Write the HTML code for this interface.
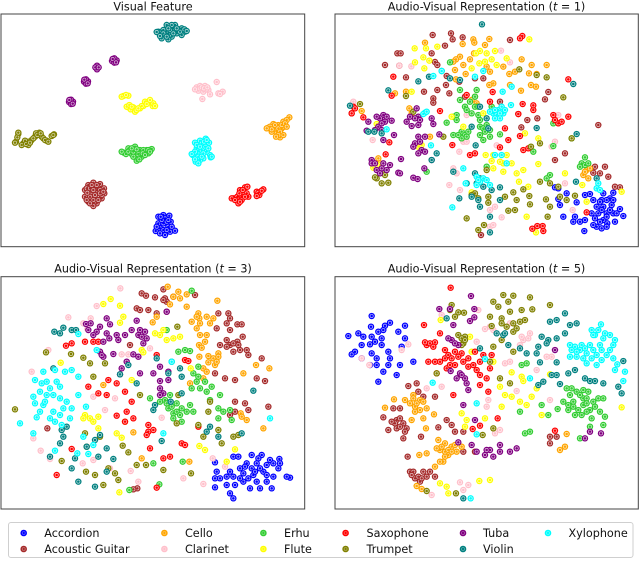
<!DOCTYPE html>
<html lang="en">
<head>
<meta charset="utf-8">
<title>t-SNE feature panels</title>
<style>
html,body{margin:0;padding:0;background:#fff;width:640px;height:561px;overflow:hidden}
svg{display:block;filter:blur(0.3px)}
text{font-family:"DejaVu Sans","Liberation Sans",sans-serif;fill:#111}
.ttl{font-size:11.2px;text-anchor:middle}
.lg{font-size:11.2px}
</style>
</head>
<body>
<svg id="chart" width="640" height="561" viewBox="0 0 640 561" xmlns="http://www.w3.org/2000/svg">
  <text class="ttl" x="153" y="10.5">Visual Feature</text>
  <text class="ttl" x="486.5" y="10.5">Audio-Visual Representation (<tspan font-style="italic">t</tspan> = 1)</text>
  <text class="ttl" x="153" y="272.5">Audio-Visual Representation (<tspan font-style="italic">t</tspan> = 3)</text>
  <text class="ttl" x="486.5" y="272.5">Audio-Visual Representation (<tspan font-style="italic">t</tspan> = 5)</text>
  <g id="plots"></g>
  <g id="legend">
    <rect x="8.5" y="522.5" width="624.5" height="35" rx="2.5" fill="#fff" stroke="#cfcfcf" stroke-width="1"/>
    <g><circle cx="23.7" cy="533" r="3.3" fill="#0000ff"/><circle cx="23.7" cy="533" r="1.5" fill="none" stroke="#fff" stroke-opacity=".45" stroke-width=".6"/><text class="lg" x="44.3" y="537.2">Accordion</text></g>
    <g><circle cx="23.7" cy="549" r="3.3" fill="#a52a2a"/><circle cx="23.7" cy="549" r="1.5" fill="none" stroke="#fff" stroke-opacity=".45" stroke-width=".6"/><text class="lg" x="44.3" y="553.2">Acoustic Guitar</text></g>
    <g><circle cx="164.4" cy="533" r="3.3" fill="#ffa500"/><circle cx="164.4" cy="533" r="1.5" fill="none" stroke="#fff" stroke-opacity=".45" stroke-width=".6"/><text class="lg" x="185" y="537.2">Cello</text></g>
    <g><circle cx="164.4" cy="549" r="3.3" fill="#ffc0cb"/><circle cx="164.4" cy="549" r="1.5" fill="none" stroke="#fff" stroke-opacity=".45" stroke-width=".6"/><text class="lg" x="185" y="553.2">Clarinet</text></g>
    <g><circle cx="263.4" cy="533" r="3.3" fill="#32cd32"/><circle cx="263.4" cy="533" r="1.5" fill="none" stroke="#fff" stroke-opacity=".45" stroke-width=".6"/><text class="lg" x="284" y="537.2">Erhu</text></g>
    <g><circle cx="263.4" cy="549" r="3.3" fill="#ffff00"/><circle cx="263.4" cy="549" r="1.5" fill="none" stroke="#fff" stroke-opacity=".45" stroke-width=".6"/><text class="lg" x="284" y="553.2">Flute</text></g>
    <g><circle cx="345.6" cy="533" r="3.3" fill="#ff0000"/><circle cx="345.6" cy="533" r="1.5" fill="none" stroke="#fff" stroke-opacity=".45" stroke-width=".6"/><text class="lg" x="366.5" y="537.2">Saxophone</text></g>
    <g><circle cx="345.6" cy="549" r="3.3" fill="#808000"/><circle cx="345.6" cy="549" r="1.5" fill="none" stroke="#fff" stroke-opacity=".45" stroke-width=".6"/><text class="lg" x="366.5" y="553.2">Trumpet</text></g>
    <g><circle cx="463" cy="533" r="3.3" fill="#800080"/><circle cx="463" cy="533" r="1.5" fill="none" stroke="#fff" stroke-opacity=".45" stroke-width=".6"/><text class="lg" x="483" y="537.2">Tuba</text></g>
    <g><circle cx="463" cy="549" r="3.3" fill="#008080"/><circle cx="463" cy="549" r="1.5" fill="none" stroke="#fff" stroke-opacity=".45" stroke-width=".6"/><text class="lg" x="483" y="553.2">Violin</text></g>
    <g><circle cx="548" cy="533" r="3.3" fill="#00ffff"/><circle cx="548" cy="533" r="1.5" fill="none" stroke="#fff" stroke-opacity=".45" stroke-width=".6"/><text class="lg" x="568.5" y="537.2">Xylophone</text></g>
  </g>
</svg>
<script>
// Class names in matplotlib draw order
const categories = ["accordion","acoustic-guitar","cello","clarinet","erhu","flute","saxophone","trumpet","tuba","violin","xylophone"];

// ---- Panel: Visual Feature (t-SNE units) ----
const vfAccordion = [[475,650],[490,645],[508,647],[512,665],[475,670],[490,670],[505,680],[525,692],[467,693],[480,685],[495,705],[510,695],[495,655],[485,660],[500,665],[470,680],[515,680],[490,690],[480,700],[500,690],[505,660],[482,650]];
const vfGuitar = [[255,570],[265,555],[280,548],[300,552],[312,565],[313,580],[305,595],[290,610],[280,618],[265,605],[255,590],[275,575],[290,580],[270,590],[295,565],[285,595],[260,565],[270,565],[285,560],[300,570],[305,585],[295,600],[280,600],[270,610],[260,600],[262,578],[280,570],[300,580],[285,585],[275,555],[290,555],[310,575]];
const vfCello = [[805,383],[820,372],[835,375],[850,365],[868,352],[860,360],[845,385],[830,395],[815,395],[840,412],[850,405],[852,380],[825,385],[810,380],[815,388],[825,375],[835,385],[840,395],[835,405],[845,375],[855,370],[860,380],[828,410],[800,385]];
const vfClarinet = [[590,262],[600,258],[615,258],[625,270],[610,275],[595,272],[630,283],[650,246],[655,280],[668,275],[607,297],[618,268],[600,265],[605,262],[612,265],[585,268],[622,262],[660,282]];
const vfErhu = [[372,458],[385,445],[405,440],[420,450],[435,455],[455,447],[445,460],[425,470],[410,482],[395,462],[378,462],[400,455],[415,462],[440,450],[385,455],[395,445],[410,448],[430,450],[445,450],[428,460],[410,470],[400,470],[418,478],[450,455],[365,455],[435,465]];
const vfFlute = [[370,288],[385,287],[385,322],[392,328],[405,335],[420,325],[435,305],[445,305],[458,318],[460,310],[430,318],[400,322],[380,320],[365,290],[378,285],[388,315],[395,320],[410,330],[425,318],[440,312],[450,300],[465,318],[415,325]];
const vfSaxophone = [[700,595],[715,610],[712,590],[720,570],[735,562],[725,590],[745,590],[740,580],[770,575],[778,585],[790,568],[725,600],[695,595],[705,600],[718,580],[728,570],[742,560],[735,590],[720,605],[775,578],[785,572],[770,588]];
const vfTrumpet = [[55,402],[48,425],[52,412],[70,430],[85,435],[95,420],[85,425],[105,410],[118,398],[125,410],[140,422],[130,415],[108,400],[155,408],[162,403],[75,422],[45,428],[55,398],[65,435],[78,432],[100,415],[112,405],[122,400],[135,420],[145,425],[160,405],[90,428]];
const vfTuba = [[343,181],[336,183],[350,181],[343,175],[343,188],[338,177],[348,187],[291,202],[291,197],[291,208],[286,202],[296,202],[258,244],[252,245],[264,244],[258,238],[258,251],[253,239],[263,250],[213,305],[207,306],[219,305],[213,299],[213,312],[208,300],[218,311]];
const vfViolin = [[475,95],[490,90],[500,75],[505,100],[520,85],[530,100],[545,85],[555,95],[545,105],[515,110],[485,115],[505,118],[495,105],[535,90],[525,75],[480,98],[470,96],[490,100],[510,90],[520,100],[540,95],[553,88],[560,93],[500,110],[480,108],[530,85],[515,75],[505,85]];
const vfXylophone = [[585,428],[600,422],[617,416],[627,428],[615,440],[590,445],[605,450],[578,465],[590,460],[630,465],[620,455],[632,472],[610,475],[587,485],[600,480],[590,435],[605,430],[612,425],[620,420],[600,440],[585,455],[595,470],[610,460],[625,445],[575,462],[635,470],[585,478],[595,490],[605,470]];

// ---- Panel: t = 1 ----
const t1Accordion = [[850,580],[880,578],[870,595],[845,600],[830,620],[850,620],[875,615],[900,627],[910,648],[880,640],[860,640],[835,640],[850,660],[885,665],[830,680],[845,685],[860,650],[815,640],[795,585],[810,582],[793,693],[770,607],[740,580],[715,597],[720,615],[730,650],[760,665],[765,650],[780,665],[795,660],[715,565],[705,562],[862,670],[840,605],[820,600],[860,600],[845,630],[870,630],[890,640],[825,655],[840,665],[820,675],[860,680],[880,600]];
const t1Guitar = [[338,105],[393,100],[398,118],[428,112],[375,137],[335,160],[232,160],[242,160],[195,195],[238,197],[258,232],[345,186],[352,195],[380,228],[352,270],[312,275],[388,280],[378,255],[340,295],[340,308],[435,290],[418,245],[465,235],[490,235],[595,342],[622,360],[652,355],[675,298],[685,276],[604,382],[835,375],[705,480],[735,460],[540,305],[95,340],[825,500],[855,500],[820,518],[865,530],[885,560],[900,562],[483,705],[840,520],[570,120]];
const t1Cello = [[315,128],[428,132],[460,118],[508,117],[463,128],[495,135],[420,170],[408,178],[400,185],[430,195],[462,160],[405,210],[437,222],[408,238],[680,195],[635,195],[627,220],[650,222],[568,222],[585,215],[605,178],[520,250],[508,255],[603,272],[633,255],[648,260],[570,255],[258,275],[268,325],[275,340],[330,410],[125,333],[225,280],[175,475],[180,490],[790,525],[800,510],[805,535],[795,515],[810,505],[450,178],[500,200],[465,290],[455,300],[510,215],[550,200],[470,310]];
const t1Clarinet = [[274,199],[238,197],[100,305],[158,420],[570,187],[543,152],[440,345],[430,425],[440,425],[530,436],[418,455],[388,555],[420,570],[400,505],[410,520],[525,620],[510,630],[545,652],[510,680],[520,675],[735,550],[758,630],[705,425],[695,440],[715,345]];
const t1Erhu = [[390,187],[420,270],[470,270],[420,300],[435,320],[465,320],[400,350],[410,360],[450,305],[440,330],[480,380],[490,385],[500,375],[510,390],[425,395],[435,405],[445,395],[425,415],[490,420],[510,410],[540,403],[380,368],[480,405],[795,472],[785,490],[780,500],[795,495],[805,490],[640,455],[700,438],[755,415],[700,370],[320,515],[475,320],[690,525],[680,535],[500,500],[465,290],[455,340],[400,405],[415,405],[440,410],[495,395],[480,360],[410,345],[475,345],[515,320]];
const t1Flute = [[628,118],[284,145],[318,145],[352,140],[285,187],[313,205],[328,182],[310,172],[480,153],[525,153],[468,160],[500,160],[515,178],[495,185],[530,195],[478,190],[455,205],[560,175],[275,275],[170,372],[295,440],[305,435],[160,503],[180,495],[655,415],[615,400],[520,465],[560,465],[575,490],[550,490],[520,505],[497,465],[550,515],[590,520],[610,510],[655,492],[597,545],[625,560],[735,520],[787,555],[905,575],[455,577],[800,605],[620,650],[648,697],[430,380],[395,350],[490,340],[515,483],[540,485]];
const t1Saxophone = [[607,108],[600,115],[220,230],[215,287],[100,320],[95,340],[130,352],[105,325],[208,427],[197,463],[450,465],[465,460],[540,442],[565,420],[625,445],[610,450],[600,408],[397,435],[745,238],[640,330],[640,316],[700,345],[715,370],[705,360],[745,350],[725,365],[637,686],[670,693],[668,678],[652,678],[800,637],[360,333],[510,305],[555,385],[608,312],[595,342],[518,276],[440,285]];
const t1Trumpet = [[120,312],[280,335],[258,288],[598,208],[680,232],[650,225],[633,440],[730,292],[755,415],[660,430],[185,515],[170,535],[185,550],[205,548],[195,525],[165,532],[475,595],[580,577],[590,600],[555,590],[505,608],[465,580],[440,655],[565,632],[585,630],[475,690],[492,675],[610,568],[628,588],[630,613],[678,598],[690,620],[683,650],[715,560],[720,590],[765,587],[740,600],[660,545],[690,550],[455,585],[505,590],[370,410],[500,510]];
const t1Tuba = [[190,345],[180,355],[200,350],[215,362],[175,380],[185,390],[165,390],[145,365],[140,392],[190,420],[222,405],[295,350],[290,325],[270,350],[260,365],[275,378],[295,375],[335,355],[340,372],[358,403],[295,410],[315,410],[285,430],[305,450],[315,455],[295,460],[155,480],[155,490],[170,510],[185,505],[200,510],[210,495],[235,518],[240,520],[280,533],[293,537],[313,505],[335,480],[243,477],[300,360],[285,355],[170,350],[195,365],[185,370],[300,425],[280,440],[165,490],[190,490],[180,520]];
const t1Violin = [[486,73],[295,244],[327,230],[205,271],[90,317],[145,395],[185,400],[163,395],[350,460],[335,480],[400,515],[465,520],[480,535],[470,550],[490,560],[515,570],[540,562],[440,550],[418,595],[475,600],[455,590],[510,650],[510,697],[480,620],[540,600],[760,252],[768,545],[830,535],[650,384],[770,402],[467,436],[505,385],[480,320],[420,240],[390,235],[365,213],[500,355],[455,380]];
const t1Xylophone = [[315,338],[310,342],[340,228],[365,213],[320,335],[535,330],[545,320],[520,340],[530,345],[550,340],[540,355],[510,335],[490,213],[465,230],[548,275],[575,260],[573,315],[525,465],[545,465],[560,490],[430,505],[437,550],[470,530],[490,535],[480,545],[500,540],[510,555],[835,550],[830,565],[840,570],[397,622],[333,436],[200,388],[525,330],[540,340],[555,330],[525,355],[475,540],[470,555]];

// ---- Panel: t = 3 ----
const t3Accordion = [[645,622],[700,605],[715,605],[755,600],[785,600],[810,615],[838,612],[840,625],[800,630],[770,625],[740,625],[720,640],[690,650],[650,650],[645,670],[660,670],[645,697],[680,690],[700,665],[730,655],[760,660],[790,650],[820,665],[870,668],[860,665],[800,680],[770,680],[730,680],[705,690],[750,700],[780,700],[815,700],[690,715],[700,730],[835,640],[720,670],[780,640],[735,635],[755,640],[765,650],[800,660],[745,670],[680,665],[775,610],[820,625]];
const t3Guitar = [[425,115],[438,122],[465,127],[490,103],[495,130],[410,160],[420,165],[445,165],[520,125],[585,120],[685,175],[690,190],[712,208],[725,208],[680,205],[690,225],[728,245],[712,260],[690,270],[660,270],[680,275],[700,290],[720,285],[740,285],[745,300],[785,310],[770,370],[795,378],[705,375],[675,370],[705,440],[735,445],[745,465],[805,455],[705,470],[690,480],[390,270],[142,520],[412,700],[400,703],[650,220],[655,175],[470,175],[500,170],[645,355],[680,255],[715,270],[700,265],[500,140],[490,135]];
const t3Cello = [[503,95],[535,110],[520,125],[560,118],[560,155],[510,148],[470,185],[458,202],[595,175],[598,190],[620,185],[600,205],[575,200],[630,205],[652,137],[640,190],[600,240],[620,240],[597,270],[605,278],[598,305],[625,303],[625,322],[645,330],[655,295],[655,305],[610,340],[620,350],[768,330],[808,340],[730,355],[722,475],[725,485],[740,495],[790,520],[400,532],[310,390],[568,620],[425,610],[610,370],[570,385],[590,220],[615,260],[640,310],[650,320],[540,130],[590,185]];
const t3Clarinet = [[361,100],[290,153],[205,187],[272,190],[250,205],[262,222],[145,285],[95,350],[100,550],[122,587],[150,612],[248,625],[280,615],[330,640],[345,430],[315,465],[280,425],[365,298],[385,298],[450,280],[485,488],[638,610],[675,635],[550,670],[610,687],[415,680],[392,648]];
const t3Erhu = [[575,107],[535,290],[555,285],[570,288],[595,335],[595,365],[580,355],[600,400],[620,410],[635,395],[660,420],[630,435],[510,420],[530,445],[505,460],[520,475],[545,460],[570,450],[580,470],[545,500],[520,490],[480,440],[495,435],[450,430],[655,460],[670,470],[690,465],[655,490],[695,495],[575,400],[500,225],[460,625],[548,620],[388,705],[478,688],[530,470],[560,470],[500,445],[515,455],[540,480],[590,380],[615,380]];
const t3Flute = [[310,147],[332,132],[360,152],[370,185],[360,203],[182,323],[465,235],[480,240],[500,255],[520,250],[540,245],[490,225],[425,285],[430,292],[255,480],[270,490],[295,485],[280,500],[295,520],[350,535],[365,548],[375,500],[395,375],[598,573],[615,585],[705,583],[680,620],[358,712],[572,340],[250,490]];
const t3Saxophone = [[198,272],[215,265],[255,260],[280,260],[295,260],[470,300],[555,315],[565,318],[325,375],[350,385],[265,395],[295,415],[320,420],[375,410],[395,440],[380,470],[350,482],[400,490],[445,510],[460,525],[445,530],[440,540],[545,565],[555,570],[510,605],[490,610],[595,515],[170,660],[215,582],[450,580],[470,698],[375,500]];
const t3Trumpet = [[45,463],[138,292],[213,297],[250,308],[270,325],[280,365],[420,420],[315,325],[255,535],[300,545],[260,575],[258,650],[185,618],[285,660],[325,640],[345,655],[355,675],[310,690],[368,572],[385,592],[410,630],[438,630],[490,645],[530,505],[610,545],[655,525],[665,565],[700,545],[715,540],[595,510],[535,420],[630,440],[532,215],[573,655],[625,470]];
const t3Tuba = [[258,207],[272,205],[265,225],[290,230],[320,190],[330,208],[320,235],[328,250],[350,240],[375,240],[355,255],[410,197],[420,225],[415,240],[435,230],[440,250],[430,265],[395,225],[340,297],[300,290],[310,305],[400,298],[415,305],[380,320],[365,340],[420,355],[460,355],[480,335],[505,350],[480,378],[505,375],[480,400],[490,415],[480,420],[500,170],[360,358],[300,215],[280,240],[310,260],[425,245],[305,300]];
const t3Violin = [[163,230],[180,235],[190,218],[215,225],[228,225],[360,358],[385,330],[470,310],[515,320],[540,340],[545,365],[505,355],[545,415],[512,440],[465,450],[460,465],[630,515],[620,530],[655,545],[760,407],[160,340],[185,525],[200,515],[190,545],[180,565],[300,540],[285,555],[260,575],[150,605],[225,610],[215,640],[235,680],[295,605],[320,580],[340,612],[320,650],[285,695],[485,558],[725,535],[410,385]];
const t3Xylophone = [[235,237],[290,285],[105,375],[130,350],[165,345],[195,350],[215,345],[235,365],[125,385],[150,400],[180,395],[140,420],[180,430],[200,440],[100,425],[105,445],[130,450],[120,470],[180,480],[160,470],[110,487],[150,490],[185,510],[210,490],[60,505],[258,455],[235,420],[215,460],[250,545],[280,570],[265,597],[515,320],[490,535],[810,490],[100,535],[165,587],[232,595],[140,380],[170,380],[120,410],[160,420],[135,440],[190,460],[165,500]];

// ---- Panel: t = 5 ----
const t5Accordion = [[155,183],[153,215],[210,203],[195,212],[85,243],[115,235],[130,245],[175,230],[155,245],[185,250],[235,230],[255,212],[255,250],[125,270],[150,268],[185,270],[245,275],[105,290],[95,298],[155,295],[205,290],[210,310],[125,310],[170,310],[170,330],[205,330],[240,330],[280,320],[190,350],[230,360],[175,380],[150,330],[165,260],[190,225]];
const t5Guitar = [[265,393],[290,385],[295,410],[310,425],[345,425],[220,460],[240,460],[190,487],[230,495],[250,505],[205,525],[230,520],[260,520],[250,550],[380,495],[395,510],[405,530],[430,530],[303,545],[355,517],[263,605],[270,650],[285,670],[310,650],[320,665],[345,665],[300,680],[690,545],[690,565],[710,545],[430,590],[465,590],[225,505],[240,490],[240,515],[215,500],[255,530],[295,665],[280,650],[330,650],[305,670],[275,660]];
const t5Cello = [[222,433],[195,458],[255,435],[280,420],[300,435],[285,455],[300,465],[320,460],[342,478],[275,495],[310,490],[318,520],[298,600],[320,595],[355,555],[375,565],[360,585],[395,575],[410,590],[385,600],[370,620],[345,635],[425,575],[720,585],[735,575],[740,537],[290,693],[305,702],[365,575],[375,590],[385,585],[405,570],[350,580],[395,590],[375,605],[360,620],[280,430],[270,445],[290,445],[310,440],[285,470]];
const t5Clarinet = [[510,215],[495,222],[570,205],[630,235],[610,255],[600,270],[470,260],[365,180],[265,268],[125,310],[245,285],[148,330],[365,395],[320,400],[555,325],[570,320],[650,345],[680,305],[695,305],[590,408],[690,435],[505,435],[500,455],[540,525],[525,535],[475,165],[335,720],[420,682],[445,690],[430,705],[605,245],[625,250],[520,225]];
const t5Erhu = [[605,330],[620,325],[600,470],[615,535],[630,530],[740,400],[770,410],[805,410],[850,430],[730,440],[760,440],[790,430],[820,440],[745,465],[775,465],[810,465],[840,470],[855,485],[815,490],[850,510],[810,515],[780,550],[713,462],[685,480],[665,450],[750,420],[780,420],[800,430],[835,430],[745,450],[760,455],[790,450],[800,445],[825,455],[765,480],[785,480],[800,470],[755,400],[790,405]];
const t5Flute = [[362,195],[450,245],[455,290],[520,320],[575,352],[605,365],[610,378],[555,420],[575,425],[600,440],[620,450],[635,425],[650,400],[690,358],[545,455],[425,475],[440,495],[495,490],[435,515],[478,678],[510,675],[360,685],[380,695],[385,715],[665,480],[905,457],[540,395]];
const t5Saxophone = [[392,98],[312,210],[360,235],[320,270],[345,262],[325,320],[345,320],[375,285],[375,310],[405,290],[425,295],[430,320],[405,330],[465,290],[515,300],[490,300],[510,340],[480,360],[500,370],[480,390],[505,410],[400,420],[533,490],[480,512],[458,522],[705,527],[350,355],[470,345],[330,265],[315,262],[340,275],[385,300],[395,310],[415,305],[445,310],[360,320],[380,340],[390,330],[460,330],[480,320],[445,335]];
const t5Trumpet = [[395,150],[390,165],[415,172],[432,173],[405,185],[520,140],[550,120],[580,122],[630,127],[535,155],[565,140],[510,185],[545,190],[570,170],[605,165],[637,163],[690,150],[615,195],[580,205],[545,205],[515,213],[435,245],[430,265],[415,240],[520,275],[545,255],[580,230],[580,290],[510,320],[540,370],[570,385],[408,715],[320,708],[488,540],[350,355],[520,520],[425,250],[435,255],[425,270],[560,215],[590,220],[600,200]];
const t5Tuba = [[453,123],[358,162],[390,162],[463,162],[463,187],[450,198],[400,210],[395,255],[415,270],[420,355],[410,370],[435,370],[445,405],[392,348],[705,285],[810,530],[795,550],[843,535],[430,450],[465,495],[415,562],[455,570],[470,590],[495,600],[510,585],[540,570],[570,590],[590,580],[520,605],[385,250],[405,265],[425,360],[440,385],[540,590],[500,585]];
const t5Violin = [[690,200],[710,195],[735,175],[750,210],[770,205],[530,235],[550,240],[565,270],[600,280],[480,280],[380,190],[665,245],[685,255],[710,250],[735,235],[655,275],[680,265],[620,295],[650,295],[660,322],[710,322],[695,360],[710,360],[670,380],[655,390],[745,355],[765,345],[795,370],[810,378],[825,378],[720,387],[850,385],[895,395],[905,415],[910,318],[430,730],[555,235]];
const t5Xylophone = [[843,208],[815,225],[825,240],[855,235],[885,255],[750,270],[765,275],[785,270],[810,270],[840,270],[870,285],[750,305],[770,305],[800,295],[830,300],[860,300],[880,310],[800,325],[830,330],[892,328],[885,345],[915,350],[910,378],[495,312],[630,370],[470,445],[470,538],[338,383],[452,730],[780,285],[795,280],[755,285],[770,290],[820,285],[845,285],[835,225],[850,250],[870,240],[880,270],[815,310],[845,315],[790,310],[820,240]];

const seriesVF = [vfAccordion,vfGuitar,vfCello,vfClarinet,vfErhu,vfFlute,vfSaxophone,vfTrumpet,vfTuba,vfViolin,vfXylophone];
const seriesT1 = [t1Accordion,t1Guitar,t1Cello,t1Clarinet,t1Erhu,t1Flute,t1Saxophone,t1Trumpet,t1Tuba,t1Violin,t1Xylophone];
const seriesT3 = [t3Accordion,t3Guitar,t3Cello,t3Clarinet,t3Erhu,t3Flute,t3Saxophone,t3Trumpet,t3Tuba,t3Violin,t3Xylophone];
const seriesT5 = [t5Accordion,t5Guitar,t5Cello,t5Clarinet,t5Erhu,t5Flute,t5Saxophone,t5Trumpet,t5Tuba,t5Violin,t5Xylophone];

// Styling and layout (separate from data)
var palette = {"accordion":"#0000ff","acoustic-guitar":"#a52a2a","cello":"#ffa500","clarinet":"#ffc0cb","erhu":"#32cd32","flute":"#ffff00","saxophone":"#ff0000","trumpet":"#808000","tuba":"#800080","violin":"#008080","xylophone":"#00ffff"};
var NS = "http://www.w3.org/2000/svg";
var plots = document.getElementById("plots");

function makeScale(d0, d1, r0, r1) {
  return function (v) { return r0 + (v - d0) / (d1 - d0) * (r1 - r0); };
}

function drawPanel(name, series, xDom, yDom, box) {
  var x = makeScale(xDom[0], xDom[1], box.left, box.right);
  var y = makeScale(yDom[0], yDom[1], box.top, box.bottom);
  var g = document.createElementNS(NS, "g");
  
  
  series.forEach(function (pts, c) {
    var col = palette[categories[c]];
    var sg = document.createElementNS(NS, "g");
    
    
    pts.forEach(function (p) {
      var pg = document.createElementNS(NS, "g");
      
      
      var a = document.createElementNS(NS, "circle");
      a.setAttribute("cx", x(p[0]));
      a.setAttribute("cy", y(p[1]));
      a.setAttribute("r", 3.2);
      a.setAttribute("fill", col);
      var b = document.createElementNS(NS, "circle");
      b.setAttribute("cx", x(p[0]));
      b.setAttribute("cy", y(p[1]));
      b.setAttribute("r", 1.6);
      b.setAttribute("fill", "none");
      b.setAttribute("stroke", "#fff");
      b.setAttribute("stroke-opacity", "0.72");
      b.setAttribute("stroke-width", "0.7");
      pg.appendChild(a);
      pg.appendChild(b);
      sg.appendChild(pg);
    });
    g.appendChild(sg);
  });
  var frame = document.createElementNS(NS, "rect");
  
  
  frame.setAttribute("x", box.left);
  frame.setAttribute("y", box.top);
  frame.setAttribute("width", box.right - box.left);
  frame.setAttribute("height", box.bottom - box.top);
  frame.setAttribute("fill", "none");
  frame.setAttribute("stroke", "#444");
  frame.setAttribute("stroke-width", "1");
  g.appendChild(frame);
  plots.appendChild(g);
}

drawPanel("panel-visual-feature", seriesVF, [3,914], [42,740], {left:1, right:304.7, top:14, bottom:246.7});
drawPanel("panel-t1", seriesT1, [45,955], [42,740], {left:335, right:638.3, top:14, bottom:246.7});
drawPanel("panel-t3", seriesT3, [3,914], [65,762], {left:1, right:304.7, top:276.7, bottom:509});
drawPanel("panel-t5", seriesT5, [45,955], [65,762], {left:335, right:638.3, top:276.7, bottom:509});
</script>
</body>
</html>
